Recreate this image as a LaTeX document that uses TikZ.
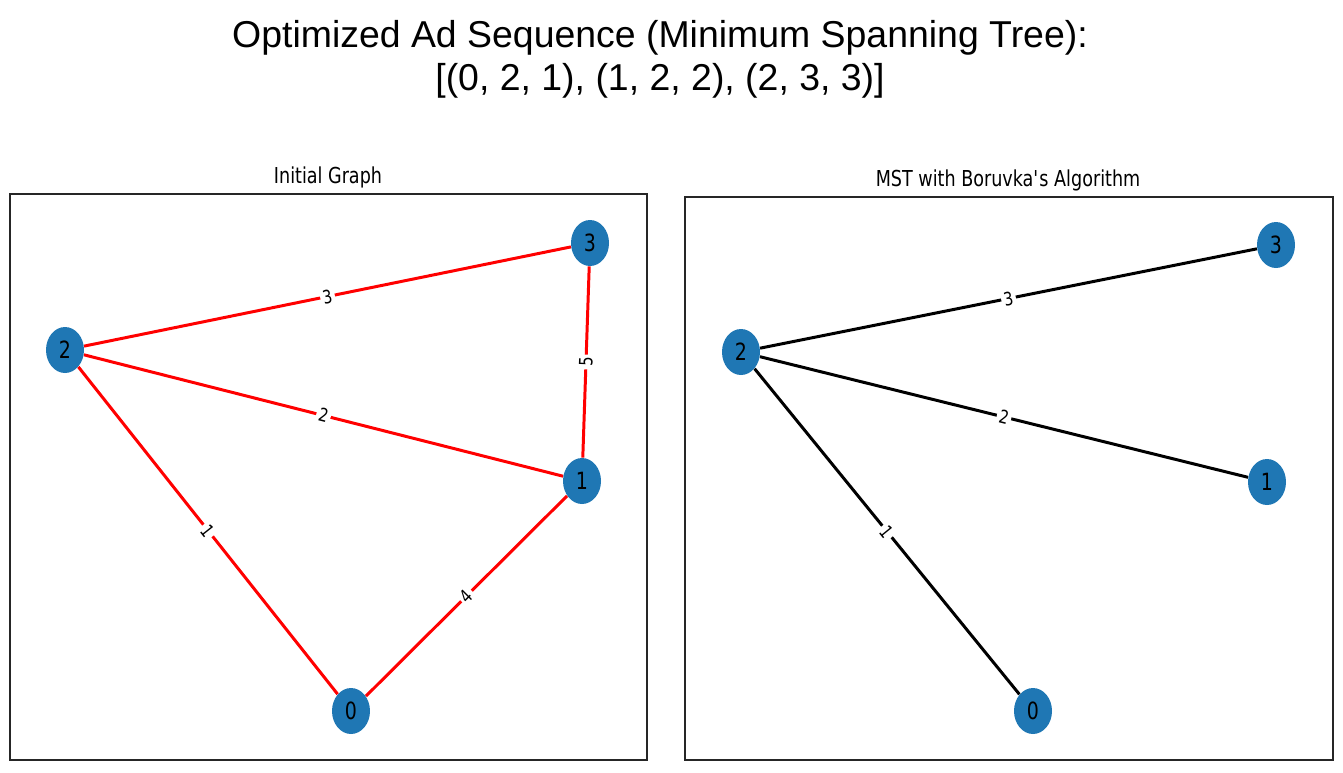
\documentclass[tikz,border=0pt]{standalone}
\usepackage{fontspec}
\setmainfont{Liberation Sans}
\newfontfamily\plotfont[FakeStretch=0.8]{DejaVu Sans}
\usepackage{tikz}
\usetikzlibrary{shapes.geometric,backgrounds}
\definecolor{nxblue}{HTML}{1F77B4}

\begin{document}
\begin{tikzpicture}[
  x=0.02cm, y=-0.02cm,
  vertex/.style={ellipse, fill=nxblue, minimum width=0.76cm, minimum height=0.92cm,
                 inner sep=0pt, font=\plotfont\fontsize{13.5}{14}\selectfont},
  redge/.style={draw=red, line width=1.7pt},
  kedge/.style={draw=black, line width=1.7pt},
  wlabel/.style={sloped, fill=white, inner sep=1.5pt, font=\plotfont\fontsize{10.5}{11}\selectfont},
  panel/.style={draw=black!85, line width=0.8pt},
  subtitle/.style={font=\plotfont\fontsize{12.5}{14}\selectfont}]
  \useasboundingbox (0,0) rectangle (1343,772);
  \node[font=\fontsize{21.3}{24.5}\selectfont, align=center] (title) at (660,59)
      {Optimized Ad Sequence (Minimum Spanning Tree):\\ {[}(0, 2, 1), (1, 2, 2), (2, 3, 3)]};

  % initial graph
  \draw[panel] (10,194) rectangle (647,760);
  \node[subtitle] (ttlinit) at (328,177) {Initial Graph};
  \node[vertex] (g0) at (351,711) {0};
  \node[vertex] (g1) at (582,481) {1};
  \node[vertex] (g2) at (65,350) {2};
  \node[vertex] (g3) at (590,243) {3};
  \begin{scope}[on background layer]
    \draw[redge] (g2) -- node[wlabel] {3} (g3);
    \draw[redge] (g2) -- node[wlabel] {2} (g1);
    \draw[redge] (g3) -- node[wlabel] {5} (g1);
    \draw[redge] (g2) -- node[wlabel] {1} (g0);
    \draw[redge] (g0) -- node[wlabel] {4} (g1);
  \end{scope}

  % MST
  \draw[panel] (685,197) rectangle (1333,760);
  \node[subtitle] (ttlmst) at (1008,180) {MST with Boruvka\textquotesingle s Algorithm};
  \node[vertex] (m0) at (1033,711) {0};
  \node[vertex] (m1) at (1267,482) {1};
  \node[vertex] (m2) at (741,352) {2};
  \node[vertex] (m3) at (1276,245) {3};
  \begin{scope}[on background layer]
    \draw[kedge] (m2) -- node[wlabel] {3} (m3);
    \draw[kedge] (m2) -- node[wlabel] {2} (m1);
    \draw[kedge] (m2) -- node[wlabel] {1} (m0);
  \end{scope}
\end{tikzpicture}
\end{document}
